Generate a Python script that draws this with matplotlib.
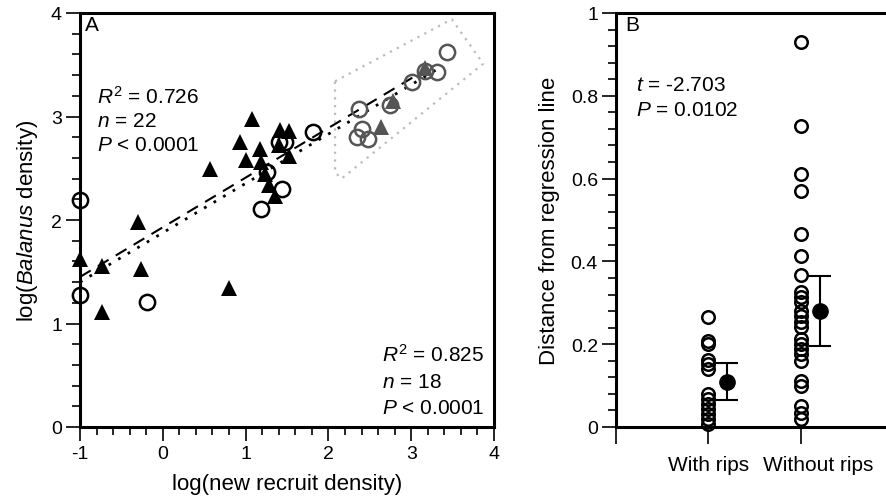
import numpy as np
import matplotlib
matplotlib.use('Agg')
import matplotlib.pyplot as plt
import matplotlib.transforms as mtransforms
from matplotlib.ticker import MultipleLocator, FuncFormatter

plt.rcParams['font.family'] = ['Liberation Sans', 'DejaVu Sans']
plt.rcParams['mathtext.fontset'] = 'custom'
plt.rcParams['mathtext.rm'] = 'Liberation Sans'
plt.rcParams['mathtext.it'] = 'Liberation Sans:italic'
plt.rcParams['axes.unicode_minus'] = False

# panel A: log(new recruit density) vs log(Balanus density)
tri_black_x = [-1.0, -0.74, -0.74, -0.30, -0.26, 0.80, 0.57,
               1.08, 0.93, 1.17, 1.00, 1.42, 1.52, 1.40, 1.52, 1.19, 1.23, 1.28, 1.36]
tri_black_y = [1.62, 1.56, 1.11, 1.98, 1.53, 1.34, 2.49,
               2.98, 2.75, 2.69, 2.58, 2.87, 2.86, 2.72, 2.62, 2.56, 2.44, 2.34, 2.23]
tri_grey_x = [2.78, 2.64, 3.17]
tri_grey_y = [3.15, 2.90, 3.47]
circ_black_x = [1.82, 1.40, 1.48, 1.26, 1.44, 1.19, -1.0, -1.0, -0.19]
circ_black_y = [2.85, 2.75, 2.75, 2.46, 2.30, 2.11, 2.19, 1.28, 1.21]
circ_grey_x = [3.43, 3.31, 3.17, 3.01, 2.74, 2.37, 2.41, 2.34, 2.48]
circ_grey_y = [3.62, 3.43, 3.44, 3.33, 3.11, 3.07, 2.88, 2.80, 2.78]

# regression lines (end points)
dash_x = [-1.0, 3.17]
dash_y = [1.45, 3.45]
dot_x = [-1.0, 3.30]
dot_y = [1.40, 3.45]

# dotted outline around the high-density group
box_x = [2.08, 3.49, 3.87, 2.16, 2.08, 2.08]
box_y = [3.34, 3.94, 3.51, 2.40, 2.46, 3.34]

# panel B: distance from regression line
with_rips = [0.265, 0.208, 0.200, 0.162, 0.152, 0.139, 0.080, 0.068,
             0.056, 0.043, 0.031, 0.019, 0.007]
without_rips = [0.929, 0.728, 0.611, 0.571, 0.465, 0.412, 0.367, 0.325,
                0.313, 0.301, 0.281, 0.267, 0.254, 0.241, 0.213, 0.200,
                0.188, 0.176, 0.160, 0.112, 0.098, 0.051, 0.035, 0.020]
group_labels = ['With rips', 'Without rips']
group_mean = [0.108, 0.279]
group_lo = [0.065, 0.195]
group_hi = [0.154, 0.364]

W, H = 886, 502
fig = plt.figure(figsize=(W / 100, H / 100), dpi=100)

grey = '#555555'
fs = 15
tfs = 14

# ---------- panel A ----------
axA = fig.add_axes([80 / W, 1 - 428 / H, 414 / W, 414 / H])
axA.plot(box_x, box_y, color='#bbbbbb', ls=(0, (1, 2.5)), lw=1.6, zorder=1)
axA.plot(dash_x, dash_y, color='black', ls=(0, (6, 4)), lw=1.5, zorder=2)
axA.plot(dot_x, dot_y, color='black', ls=(0, (1, 3)), lw=2.0, zorder=2)
axA.plot(tri_black_x, tri_black_y, '^', color='black', ms=12, mew=0,
         zorder=3, clip_on=False)
axA.plot(tri_grey_x, tri_grey_y, '^', color=grey, ms=12, mew=0, zorder=3)
axA.plot(circ_black_x, circ_black_y, 'o', mfc='none', mec='black', ms=11,
         mew=1.8, zorder=4, clip_on=False)
axA.plot(circ_grey_x, circ_grey_y, 'o', mfc='none', mec=grey, ms=11,
         mew=1.8, zorder=4)

axA.set_xlim(-1, 4)
axA.set_ylim(0, 4)
axA.xaxis.set_major_locator(MultipleLocator(1))
axA.xaxis.set_minor_locator(MultipleLocator(0.2))
axA.yaxis.set_major_locator(MultipleLocator(1))
axA.yaxis.set_minor_locator(MultipleLocator(0.2))
axA.tick_params(which='major', direction='out', length=10, width=1.2,
                labelsize=tfs, pad=3)
axA.tick_params(which='minor', direction='out', length=6, width=1.2)
for s in axA.spines.values():
    s.set_linewidth(2.2)
axA.set_xlabel('log(new recruit density)', fontsize=16, labelpad=8)
axA.set_ylabel(r'log($\it{Balanus}$ density)', fontsize=16, labelpad=8)

axA.text(-0.94, 3.89, 'A', fontsize=fs, va='center')
axA.text(-0.79, 3.20, r'$R^2$ = 0.726', fontsize=fs, va='center')
axA.text(-0.79, 2.96, r'$n$ = 22', fontsize=fs, va='center')
axA.text(-0.79, 2.73, r'$P$ < 0.0001', fontsize=fs, va='center')
axA.text(2.65, 0.71, r'$R^2$ = 0.825', fontsize=fs, va='center')
axA.text(2.65, 0.44, r'$n$ = 18', fontsize=fs, va='center')
axA.text(2.65, 0.19, r'$P$ < 0.0001', fontsize=fs, va='center')

# ---------- panel B ----------
x_left = -0.99
x_right = 1.91
axB = fig.add_axes([616 / W, 1 - 428 / H, (W - 616) / W, 414 / H])
axB.plot(np.zeros(len(with_rips)), with_rips, 'o', mfc='none', mec='black',
         ms=9, mew=1.8, clip_on=False)
axB.plot(np.ones(len(without_rips)), without_rips, 'o', mfc='none',
         mec='black', ms=9, mew=1.8, clip_on=False)
pos = np.arange(len(group_labels)) + 0.2
err = [np.array(group_mean) - np.array(group_lo),
       np.array(group_hi) - np.array(group_mean)]
axB.errorbar(pos, group_mean, yerr=err, fmt='o', color='black', ms=11,
             elinewidth=1.5, capsize=8, capthick=1.5)

axB.set_xlim(x_left, x_right)
axB.set_ylim(0, 1)
axB.set_xticks([x_left, 0, 1])
axB.set_xticklabels([''] + group_labels)
axB.yaxis.set_major_locator(MultipleLocator(0.2))
axB.yaxis.set_minor_locator(MultipleLocator(0.04))
axB.yaxis.set_major_formatter(FuncFormatter(lambda v, p: '%g' % round(v, 2)))
axB.tick_params(axis='y', which='major', direction='out', length=10,
                width=1.2, labelsize=tfs, pad=3)
axB.tick_params(axis='y', which='minor', direction='out', length=6, width=1.2)
axB.tick_params(axis='x', direction='out', length=12, width=1.2,
                labelsize=fs, pad=8)
# the second category label sits a little right of its tick
shift = mtransforms.ScaledTranslation(17 / 100, 0, fig.dpi_scale_trans)
lab = axB.get_xticklabels()[2]
lab.set_transform(lab.get_transform() + shift)
for s in axB.spines.values():
    s.set_linewidth(2.2)
axB.spines['right'].set_visible(False)
axB.set_ylabel('Distance from regression line', fontsize=16, labelpad=8)

axB.text(-0.89, 0.973, 'B', fontsize=fs, va='center')
axB.text(-0.775, 0.828, r'$t$ = -2.703', fontsize=fs, va='center')
axB.text(-0.775, 0.768, r'$P$ = 0.0102', fontsize=fs, va='center')

fig.savefig('out.png', dpi=100)
